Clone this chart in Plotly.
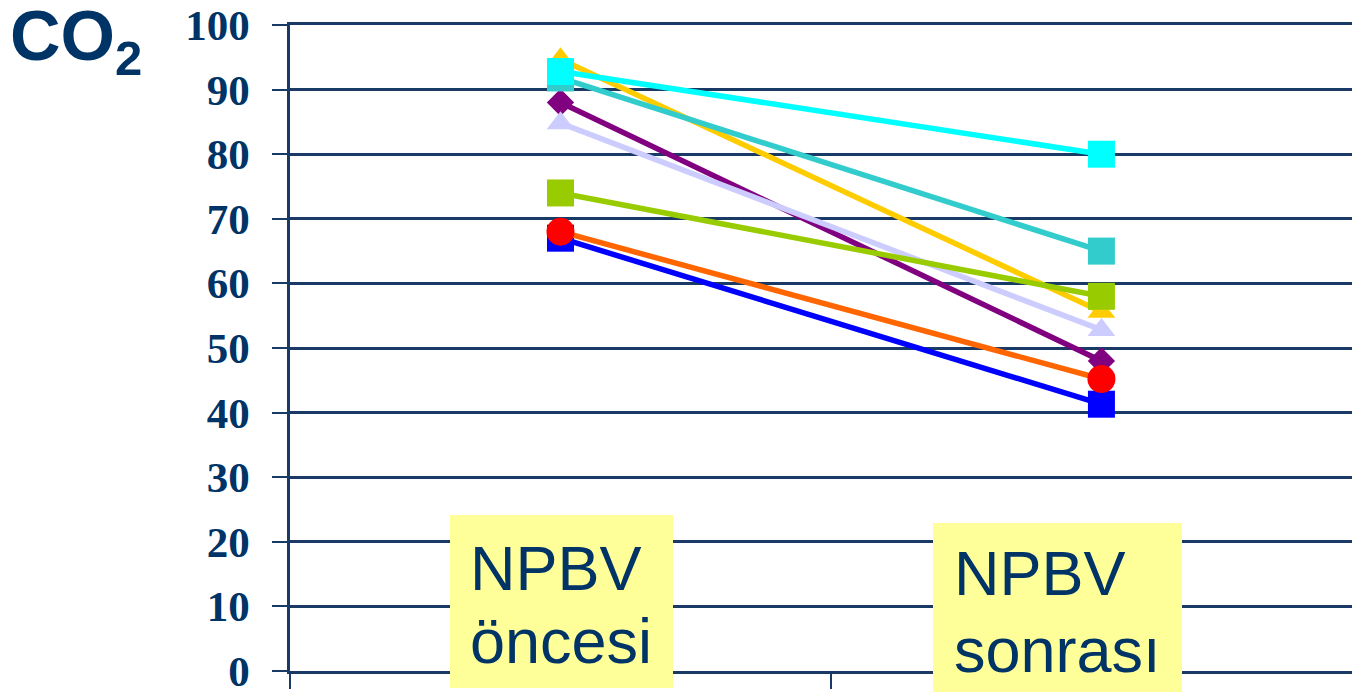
import plotly.graph_objects as go

categories = ["NPBV öncesi", "NPBV sonrası"]

series_names = ["S1", "S5", "S4", "S2", "S7", "S3", "S6", "S8"]
blue_vals = [67, 41.3]
purple_vals = [88, 48]
lavender_vals = [84.8, 52.8]
orange_vals = [68, 45.2]
gold_vals = [94.7, 55.6]
green_vals = [74, 58]
teal_vals = [91.8, 65]
cyan_vals = [92.8, 80]

styles = [
    (blue_vals, "#0000FF", "#0000FF", "square", 27),
    (purple_vals, "#800080", "#800080", "diamond", 21),
    (lavender_vals, "#CCCCFF", "#CCCCFF", "triangle-up", 24),
    (orange_vals, "#FF6600", "#FF0000", "circle", 28),
    (gold_vals, "#FFCC00", "#FFCC00", "triangle-up", 24),
    (green_vals, "#99CC00", "#99CC00", "square", 27),
    (teal_vals, "#33CCCC", "#33CCCC", "square", 27),
    (cyan_vals, "#00FFFF", "#00FFFF", "square", 27),
]

navy = "#003366"
grid = "#1A3A66"

fig = go.Figure()
for name, (vals, lc, mc, sym, sz) in zip(series_names, styles):
    fig.add_trace(go.Scatter(
        x=categories, y=vals, name=name, mode="lines+markers",
        line=dict(color=lc, width=5.5),
        marker=dict(color=mc, symbol=sym, size=sz, line=dict(width=0)),
        cliponaxis=False, showlegend=False,
    ))

# page body has an 8px margin: window coords = figure coords + 8
def px_x(p):
    return (p - 290) / 1070

def px_y(p):
    return (671 - p) / 646

shapes = [
    dict(type="rect", xref="paper", yref="paper", x0=px_x(450), x1=px_x(673),
         y0=px_y(688), y1=px_y(515), fillcolor="#FFFF99", line=dict(width=0), layer="above"),
    dict(type="rect", xref="paper", yref="paper", x0=px_x(933), x1=px_x(1182),
         y0=px_y(700), y1=px_y(523), fillcolor="#FFFF99", line=dict(width=0), layer="above"),
]

label_font = dict(family="Arial, Liberation Sans", size=63, color=navy)
annotations = [
    dict(text="NPBV", x=px_x(468), y=px_y(567.5), xref="paper", yref="paper",
         xanchor="left", yanchor="middle", showarrow=False, font=label_font),
    dict(text="öncesi", x=px_x(468), y=px_y(641), xref="paper", yref="paper",
         xanchor="left", yanchor="middle", showarrow=False, font=label_font),
    dict(text="NPBV", x=px_x(952), y=px_y(572.5), xref="paper", yref="paper",
         xanchor="left", yanchor="middle", showarrow=False, font=label_font),
    dict(text="sonrası", x=px_x(952), y=px_y(650), xref="paper", yref="paper",
         xanchor="left", yanchor="middle", showarrow=False, font=label_font),
    dict(text="<b>CO<sub>2</sub></b>", x=px_x(8), y=px_y(41), xref="paper", yref="paper",
         xanchor="left", yanchor="middle", showarrow=False,
         font=dict(family="Arial, Liberation Sans", size=70, color=navy)),
]

fig.update_layout(
    width=1352, height=684,
    margin=dict(l=282, r=0, t=17, b=21, autoexpand=False),
    paper_bgcolor="white", plot_bgcolor="white",
    shapes=shapes, annotations=annotations,
    xaxis=dict(
        type="category", range=[-0.5, 1.478], showticklabels=False,
        ticks="outside", tickson="boundaries", ticklen=15, tickwidth=2, tickcolor=grid,
        showgrid=False, showline=True, mirror=True, linecolor=grid, linewidth=2.5, zeroline=False,
    ),
    yaxis=dict(
        range=[0, 100], dtick=10, tick0=0,
        showgrid=True, gridcolor=grid, gridwidth=2.5,
        showline=True, linecolor=grid, linewidth=2.5,
        ticks="outside", ticklen=15, tickwidth=2, tickcolor=grid,
        ticklabelstandoff=14, zeroline=False, ticklabeloverflow="allow",
        tickfont=dict(family="Times New Roman, Liberation Serif", size=43, color=navy, weight="bold"),
    ),
)

fig.write_html("out.html")
